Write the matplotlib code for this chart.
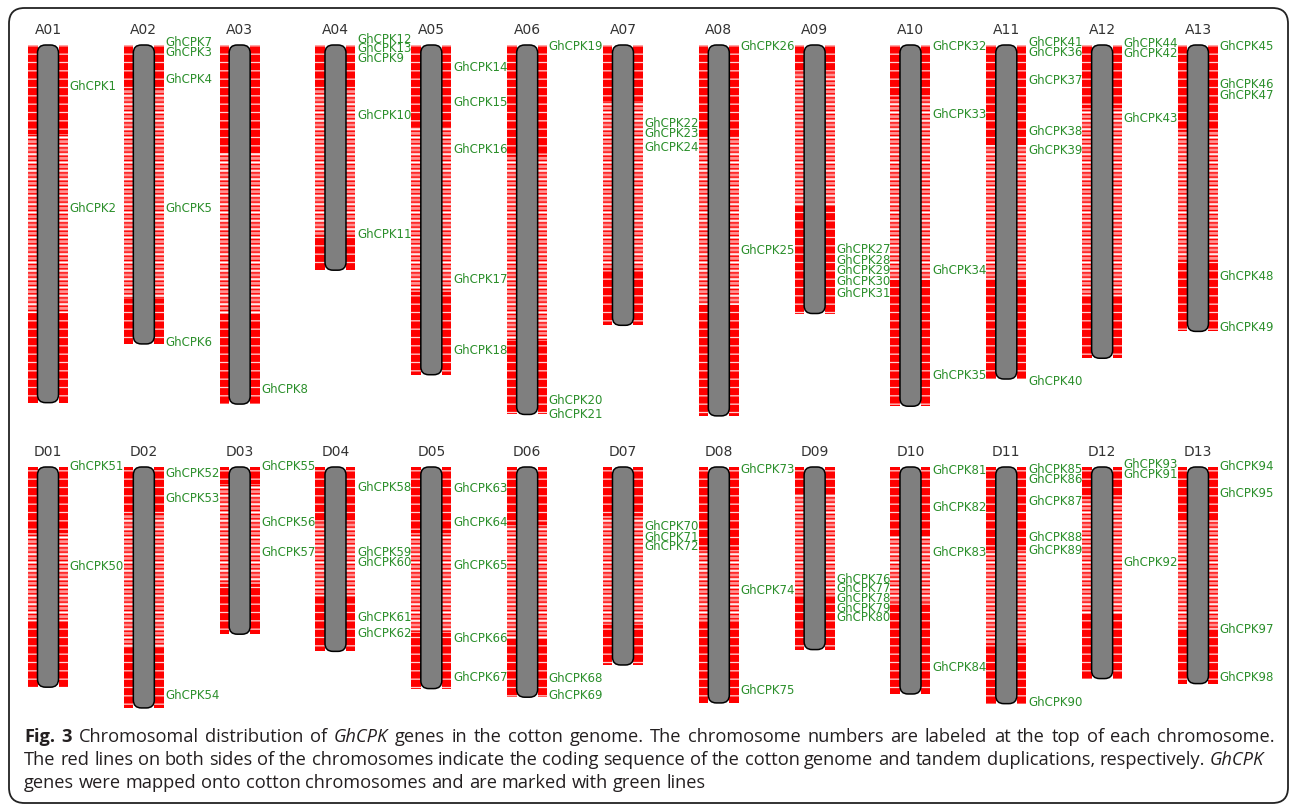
import matplotlib
matplotlib.use('Agg')
import matplotlib.pyplot as plt
from matplotlib.patches import Rectangle, FancyBboxPatch

plt.rcParams['hatch.linewidth'] = 0.9

# chromosome names and lengths (Mb)
a_names = ['A01', 'A02', 'A03', 'A04', 'A05', 'A06', 'A07', 'A08', 'A09', 'A10', 'A11', 'A12', 'A13']
a_length = [99.9, 83.5, 100.3, 62.9, 92.1, 103.2, 78.3, 103.6, 75.0, 100.9, 93.3, 87.5, 80.0]
d_names = ['D01', 'D02', 'D03', 'D04', 'D05', 'D06', 'D07', 'D08', 'D09', 'D10', 'D11', 'D12', 'D13']
d_length = [61.5, 67.3, 46.7, 51.5, 61.9, 64.3, 55.3, 65.9, 51.0, 63.4, 66.1, 59.1, 60.5]

# low gene-density part of each chromosome (fraction of length)
a_sparse_from = [0.25, 0.15, 0.30, 0.20, 0.25, 0.30, 0.20, 0.25, 0.10, 0.15, 0.30, 0.20, 0.30]
a_sparse_to = [0.75, 0.85, 0.75, 0.85, 0.75, 0.80, 0.80, 0.70, 0.60, 0.65, 0.70, 0.80, 0.75]
d_sparse_from = [0.30, 0.20, 0.10, 0.30, 0.30, 0.25, 0.25, 0.35, 0.15, 0.30, 0.35, 0.15, 0.25]
d_sparse_to = [0.70, 0.75, 0.70, 0.70, 0.75, 0.75, 0.80, 0.65, 0.70, 0.60, 0.75, 0.70, 0.75]

# GhCPK genes: name, chromosome index, label position (Mb)
a_gene_names = ['GhCPK1', 'GhCPK2', 'GhCPK7', 'GhCPK3', 'GhCPK4', 'GhCPK5', 'GhCPK6', 'GhCPK8',
                'GhCPK12', 'GhCPK13', 'GhCPK9', 'GhCPK10', 'GhCPK11',
                'GhCPK14', 'GhCPK15', 'GhCPK16', 'GhCPK17', 'GhCPK18',
                'GhCPK19', 'GhCPK20', 'GhCPK21', 'GhCPK22', 'GhCPK23', 'GhCPK24',
                'GhCPK26', 'GhCPK25', 'GhCPK27', 'GhCPK28', 'GhCPK29', 'GhCPK30', 'GhCPK31',
                'GhCPK32', 'GhCPK33', 'GhCPK34', 'GhCPK35',
                'GhCPK41', 'GhCPK36', 'GhCPK37', 'GhCPK38', 'GhCPK39', 'GhCPK40',
                'GhCPK44', 'GhCPK42', 'GhCPK43',
                'GhCPK45', 'GhCPK46', 'GhCPK47', 'GhCPK48', 'GhCPK49']
a_gene_chrom = [0, 0, 1, 1, 1, 1, 1, 2,
                3, 3, 3, 3, 3,
                4, 4, 4, 4, 4,
                5, 5, 5, 6, 6, 6,
                7, 7, 8, 8, 8, 8, 8,
                9, 9, 9, 9,
                10, 10, 10, 10, 10, 10,
                11, 11, 11,
                12, 12, 12, 12, 12]
a_gene_pos = [11.5, 45.8, -0.8, 2.0, 9.5, 45.8, 83.2, 96.1,
              -1.4, 1.1, 3.9, 19.8, 52.8,
              6.4, 16.2, 29.1, 65.6, 85.2,
              0.3, 99.2, 103.1, 21.8, 24.6, 28.5,
              0.3, 57.3, 57.0, 60.1, 63.1, 66.2, 69.3,
              0.3, 19.3, 63.1, 92.2,
              -0.6, 2.2, 9.8, 24.3, 29.6, 93.9,
              -0.3, 2.5, 20.4,
              0.3, 10.9, 14.0, 64.8, 78.8]

d_gene_names = ['GhCPK51', 'GhCPK50', 'GhCPK52', 'GhCPK53', 'GhCPK54',
                'GhCPK55', 'GhCPK56', 'GhCPK57',
                'GhCPK58', 'GhCPK59', 'GhCPK60', 'GhCPK61', 'GhCPK62',
                'GhCPK63', 'GhCPK64', 'GhCPK65', 'GhCPK66', 'GhCPK67',
                'GhCPK68', 'GhCPK69', 'GhCPK70', 'GhCPK71', 'GhCPK72',
                'GhCPK73', 'GhCPK74', 'GhCPK75',
                'GhCPK76', 'GhCPK77', 'GhCPK78', 'GhCPK79', 'GhCPK80',
                'GhCPK81', 'GhCPK82', 'GhCPK83', 'GhCPK84',
                'GhCPK85', 'GhCPK86', 'GhCPK87', 'GhCPK88', 'GhCPK89', 'GhCPK90',
                'GhCPK93', 'GhCPK91', 'GhCPK92',
                'GhCPK94', 'GhCPK95', 'GhCPK97', 'GhCPK98']
d_gene_chrom = [0, 0, 1, 1, 1,
                2, 2, 2,
                3, 3, 3, 3, 3,
                4, 4, 4, 4, 4,
                5, 5, 6, 6, 6,
                7, 7, 7,
                8, 8, 8, 8, 8,
                9, 9, 9, 9,
                10, 10, 10, 10, 10, 10,
                11, 11, 11,
                12, 12, 12, 12]
d_gene_pos = [0.0, 27.7, 1.7, 8.9, 63.7,
              0.0, 15.4, 24.0,
              5.6, 24.0, 26.8, 41.9, 46.6,
              6.1, 15.6, 27.4, 47.8, 58.9,
              59.2, 63.7, 16.5, 19.6, 22.3,
              0.6, 34.4, 62.3,
              31.3, 33.8, 36.6, 39.4, 41.9,
              1.1, 11.2, 24.0, 55.9,
              0.8, 3.6, 9.5, 19.8, 23.2, 65.9,
              -0.6, 2.0, 26.8,
              0.0, 7.3, 45.5, 58.9]

caption_lines = [
    [('Fig. 3', 'bold', 'normal'), ('Chromosomal distribution of', 'normal', 'normal'),
     ('GhCPK', 'normal', 'italic'),
     ('genes in the cotton genome. The chromosome numbers are labeled at the top of each chromosome.',
      'normal', 'normal')],
    [('The red lines on both sides of the chromosomes indicate the coding sequence of the cotton genome '
      'and tandem duplications, respectively.', 'normal', 'normal'), ('GhCPK', 'normal', 'italic')],
    [('genes were mapped onto cotton chromosomes and are marked with green lines', 'normal', 'normal')],
]

W, H = 1290, 806
PX_IDX = 95.83   # pixels between chromosomes
PX_MB = 3.58     # pixels per Mb
GREEN = '#2b8f2b'

fig = plt.figure(figsize=(W / 100, H / 100), dpi=100)

# outer rounded frame
frame = FancyBboxPatch((9 / W, 1 - 803 / H), 1279 / W, 795 / H,
                       boxstyle='round,pad=0,rounding_size=0.012', mutation_aspect=W / H,
                       transform=fig.transFigure, fc='none', ec='#222222', lw=1.3, zorder=0)
fig.patches.append(frame)


def row_axes(top_px, bottom_px, zero_px):
    ax = fig.add_axes([0, 1 - bottom_px / H, 1, (bottom_px - top_px) / H])
    ax.set_xlim(-48 / PX_IDX, (W - 48) / PX_IDX)
    ax.set_ylim((bottom_px - zero_px) / PX_MB, (top_px - zero_px) / PX_MB)
    ax.axis('off')
    return ax


def draw_row(ax, names, lengths, s_from, s_to, g_names, g_chrom, g_pos):
    hw = 10.5 / PX_IDX
    rw = 9.5 / PX_IDX
    for i, (name, L) in enumerate(zip(names, lengths)):
        s0, s1 = s_from[i] * L, s_to[i] * L
        for x0 in (i - hw - rw, i + hw):
            # gene-rich arms: red with a few pale lines
            ax.add_patch(Rectangle((x0, 0), rw, L, fc='#ff0000', ec='#ffd2d2', lw=0, hatch='--'))
            # gene-poor middle: pink with red and white lines
            ax.add_patch(Rectangle((x0, s0), rw, s1 - s0, fc='#ff9090', ec='#ff0000', lw=0,
                                   hatch='----'))
            ax.add_patch(Rectangle((x0, s0), rw, s1 - s0, fc='none', ec='white', lw=0,
                                   hatch='--'))
        ax.add_patch(FancyBboxPatch((i - hw, 0), 2 * hw, L,
                                    boxstyle='round,pad=0,rounding_size=%f' % (8 / PX_IDX),
                                    mutation_aspect=PX_IDX / PX_MB,
                                    fc='#7f7f7f', ec='black', lw=1.1, zorder=3))
        ax.annotate(name, xy=(i, 0), xytext=(0, 11), textcoords='offset points',
                    ha='center', va='center', fontsize=10, color='#333333')
    for n, c, p in zip(g_names, g_chrom, g_pos):
        ax.annotate(n, xy=(c, p), xytext=(15.6, 0), textcoords='offset points',
                    ha='left', va='center', fontsize=8.5, color=GREEN)


ax_a = row_axes(18, 440, 45)
draw_row(ax_a, a_names, a_length, a_sparse_from, a_sparse_to, a_gene_names, a_gene_chrom, a_gene_pos)
ax_d = row_axes(440, 725, 467)
draw_row(ax_d, d_names, d_length, d_sparse_from, d_sparse_to, d_gene_names, d_gene_chrom, d_gene_pos)

# caption, drawn word by word so bold / italic parts follow each other
renderer = fig.canvas.get_renderer()


def piece_width(txt, size, weight, style):
    t = fig.text(0, 0, txt, fontsize=size, fontweight=weight, fontstyle=style, family='Open Sans')
    w = t.get_window_extent(renderer).width
    t.remove()
    return w


def words_of(line):
    return [(w, wt, st) for txt, wt, st in line for w in txt.split(' ')]


def natural_width(words, size):
    sp = piece_width('a a', size, 'normal', 'normal') - piece_width('aa', size, 'normal', 'normal')
    return sum(piece_width(t, size, wt, st) for t, wt, st in words) + sp * (len(words) - 1)


LEFT = 24
base = 12
cap_size = base * (1258 - LEFT) / natural_width(words_of(caption_lines[1]), base)
space_w = piece_width('a a', cap_size, 'normal', 'normal') - piece_width('aa', cap_size, 'normal', 'normal')
justify_to = [1275, None, None]
for line, y, right in zip(caption_lines, [742, 765, 788], justify_to):
    words = words_of(line)
    widths = [piece_width(t, cap_size, wt, st) for t, wt, st in words]
    gap = space_w
    if right is not None:
        gap = (right - LEFT - sum(widths)) / (len(words) - 1)
    x = LEFT
    for (txt, wt, st), w in zip(words, widths):
        fig.text(x / W, 1 - y / H, txt, fontsize=cap_size, fontweight=wt, fontstyle=st,
                 family='Open Sans', va='baseline', color='#231f20')
        x += w + gap

fig.savefig('out.png', dpi=100)
